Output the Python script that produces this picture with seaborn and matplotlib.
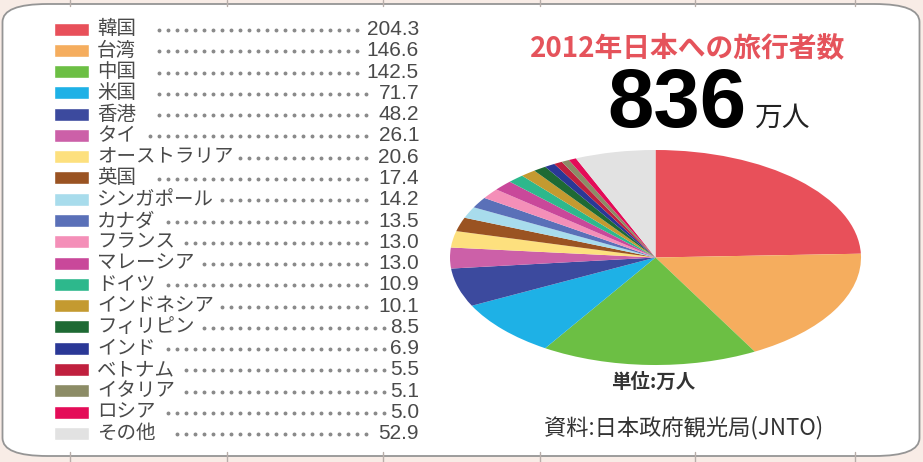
import matplotlib
matplotlib.use("Agg")
import matplotlib.pyplot as plt
from matplotlib.patches import FancyBboxPatch
import seaborn as sns

# Visitors to Japan in 2012 (unit: 10,000 people)
countries = ["韓国", "台湾", "中国", "米国", "香港", "タイ", "オーストラリア", "英国",
             "シンガポール", "カナダ", "フランス", "マレーシア", "ドイツ", "インドネシア",
             "フィリピン", "インド", "ベトナム", "イタリア", "ロシア", "その他"]
visitors = [204.3, 146.6, 142.5, 71.7, 48.2, 26.1, 20.6, 17.4, 14.2, 13.5,
            13.0, 13.0, 10.9, 10.1, 8.5, 6.9, 5.5, 5.1, 5.0, 52.9]
value_labels = ["204.3", "146.6", "142.5", "71.7", "48.2", "26.1", "20.6", "17.4",
                "14.2", "13.5", "13.0", "13.0", "10.9", "10.1", "8.5", "6.9",
                "5.5", "5.1", "5.0", "52.9"]
colors = ["#e8505a", "#f5ad5e", "#6cbf44", "#1eb1e6", "#3c4a9e", "#cc60a8", "#fde07e",
          "#9a5322", "#a8dcec", "#5a70b8", "#f48fb8", "#c9489a", "#2db88c", "#c49a30",
          "#1e6a34", "#2a3896", "#c0203e", "#8c8c66", "#e40c58", "#e2e2e2"]

title = "2012年日本への旅行者数"
total_label = "836"
total_unit = "万人"
unit_note = "単位:万人"
source_note = "資料:日本政府観光局(JNTO)"

sns.set_theme(style="white")
plt.rcParams["font.family"] = ["Noto Sans CJK JP", "DejaVu Sans"]

W, H = 923, 462
fig = plt.figure(figsize=(W / 100, H / 100), dpi=100, facecolor="#f8ece6")

# Full-figure canvas in pixel units (y grows downward)
bg = fig.add_axes([0, 0, 1, 1])
bg.set_xlim(0, W)
bg.set_ylim(H, 0)
bg.axis("off")

# faint table rules peeking out behind the panel
for x in [70, 227, 383, 540, 695, 855]:
    bg.plot([x, x], [0, 6], color="#b8aeaa", lw=1)
    bg.plot([x, x], [452, H], color="#b8aeaa", lw=1)

panel = FancyBboxPatch((2.5, 4), 917, 452,
                       boxstyle="round,pad=0,rounding_size=45",
                       mutation_aspect=0.4,
                       facecolor="white", edgecolor="#959595", lw=1.3, zorder=1)
bg.add_patch(panel)

# Legend rows
row0, row_step = 29.0, 21.28
rows = [row0 + i * row_step for i in range(len(countries))]
bg.barh(rows, [35] * len(rows), left=54, height=13, color=colors, zorder=3)

label_texts = []
value_texts = []
for y, name, val in zip(rows, countries, value_labels):
    label_texts.append(bg.text(97, y, name, fontsize=14, color="#4a4a4a",
                               va="center", ha="left", zorder=4))
    value_texts.append(bg.text(419, y + 0.5, val, fontsize=15, color="#4a4a4a",
                               va="center", ha="right", zorder=4,
                               family=["Liberation Sans", "DejaVu Sans"]))

# dotted leaders between names and values; kanji names get a wider gap
fig.canvas.draw()
renderer = fig.canvas.get_renderer()
inv = bg.transData.inverted()
for y, name, lt, vt in zip(rows, countries, label_texts, value_texts):
    lb = lt.get_window_extent(renderer)
    vb = vt.get_window_extent(renderer)
    is_kana = any("\u30a0" <= ch <= "\u30ff" for ch in name)
    gap = 6 if is_kana else 18
    x_start = inv.transform((lb.x1, 0))[0] + gap
    x_end = inv.transform((vb.x0, 0))[0] - 4
    xs = [177 + 9 * k for k in range(-12, 40)]
    xs = [x for x in xs if x_start <= x <= x_end]
    bg.plot(xs, [y + 1] * len(xs), linestyle="none", marker="o", ms=1.8,
            color="#8a8a8a", zorder=4)

# Headline texts
bg.text(688, 48, title, fontsize=20, fontweight="bold", color="#e5535b",
        ha="center", va="center", zorder=4)
bg.text(746, 127, total_label, fontsize=60, fontweight="bold", color="black",
        ha="right", va="baseline", zorder=4,
        family=["Liberation Sans", "DejaVu Sans"])
bg.text(754, 126, total_unit, fontsize=20, color="#222222",
        ha="left", va="baseline", zorder=4)
bg.text(653, 382, unit_note, fontsize=14, fontweight="bold", color="#333333",
        ha="center", va="center", zorder=4)
bg.text(684, 428, source_note, fontsize=16, color="#333333",
        ha="center", va="center", zorder=4)

# Pie, starting at 12 o'clock and running clockwise
pie_ax = fig.add_axes([450 / W, (H - 365) / H, 411 / W, 215 / H])
pie_ax.pie(visitors, colors=colors, startangle=90, counterclock=False,
           wedgeprops=dict(linewidth=0))
pie_ax.set_aspect("auto")
pie_ax.set_xlim(-1, 1)
pie_ax.set_ylim(-1, 1)
pie_ax.axis("off")

fig.savefig("out.png", dpi=100, facecolor=fig.get_facecolor())
